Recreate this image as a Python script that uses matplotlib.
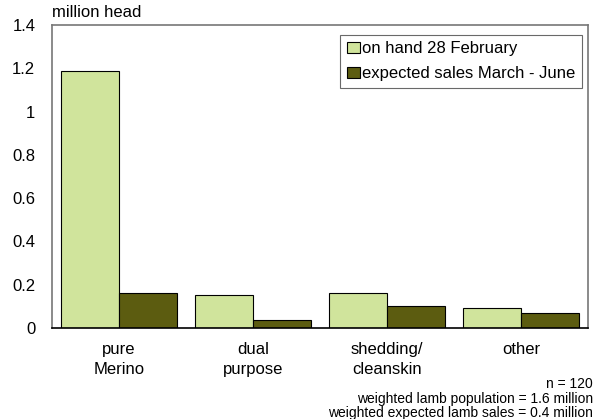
import numpy as np
import matplotlib.pyplot as plt

plt.rcParams['font.family'] = ['Liberation Sans', 'DejaVu Sans']

categories = ['pure\nMerino', 'dual\npurpose', 'shedding/\ncleanskin', 'other']
on_hand = [1.187, 0.152, 0.162, 0.092]
expected_sales = [0.162, 0.037, 0.102, 0.069]
series_labels = ['on hand 28 February', 'expected sales March - June']
notes = ['n = 120', 'weighted lamb population = 1.6 million',
         'weighted expected lamb sales = 0.4 million']

light = '#d0e49c'
dark = '#5c5c10'

fig = plt.figure(figsize=(5.94, 4.19), dpi=100)
ax = fig.add_axes([52 / 594, 1 - 328 / 419, 536 / 594, 303 / 419])

x = np.arange(len(categories))
w = 0.43
ax.bar(x - w / 2, on_hand, w, color=light, edgecolor='black', linewidth=0.8,
       label=series_labels[0])
ax.bar(x + w / 2, expected_sales, w, color=dark, edgecolor='black', linewidth=0.8,
       label=series_labels[1])

ax.set_xlim(-0.5, len(categories) - 0.5)
ax.set_ylim(0, 1.4)
ax.set_yticks(np.arange(0, 1.41, 0.2))
ax.set_yticklabels(['0', '0.2', '0.4', '0.6', '0.8', '1', '1.2', '1.4'])
ax.set_xticks(x)
ax.set_xticklabels(categories, linespacing=1.45)
ax.tick_params(length=0, labelsize=12)
ax.tick_params(axis='x', pad=10)
ax.tick_params(axis='y', pad=12)

for s in ['top', 'right', 'left']:
    ax.spines[s].set_color('#777777')
    ax.spines[s].set_linewidth(1.2)
ax.spines['bottom'].set_color('black')
ax.spines['bottom'].set_linewidth(1.2)

ax.text(0, 1.015, 'million head', transform=ax.transAxes, fontsize=12,
        ha='left', va='bottom')

leg = ax.legend(loc='upper right', bbox_to_anchor=(0.988, 0.968), fontsize=12,
                frameon=True, fancybox=False, edgecolor='#444444',
                handlelength=0.8, handleheight=0.7, handletextpad=0.1,
                borderpad=0.4, labelspacing=0.6, borderaxespad=0)
leg.get_frame().set_linewidth(0.8)

for i, note in enumerate(notes):
    fig.text(593 / 594, 1 - (384 + 14.5 * i) / 419, note, ha='right', va='center',
             fontsize=10)

fig.savefig('out.png', dpi=100)
